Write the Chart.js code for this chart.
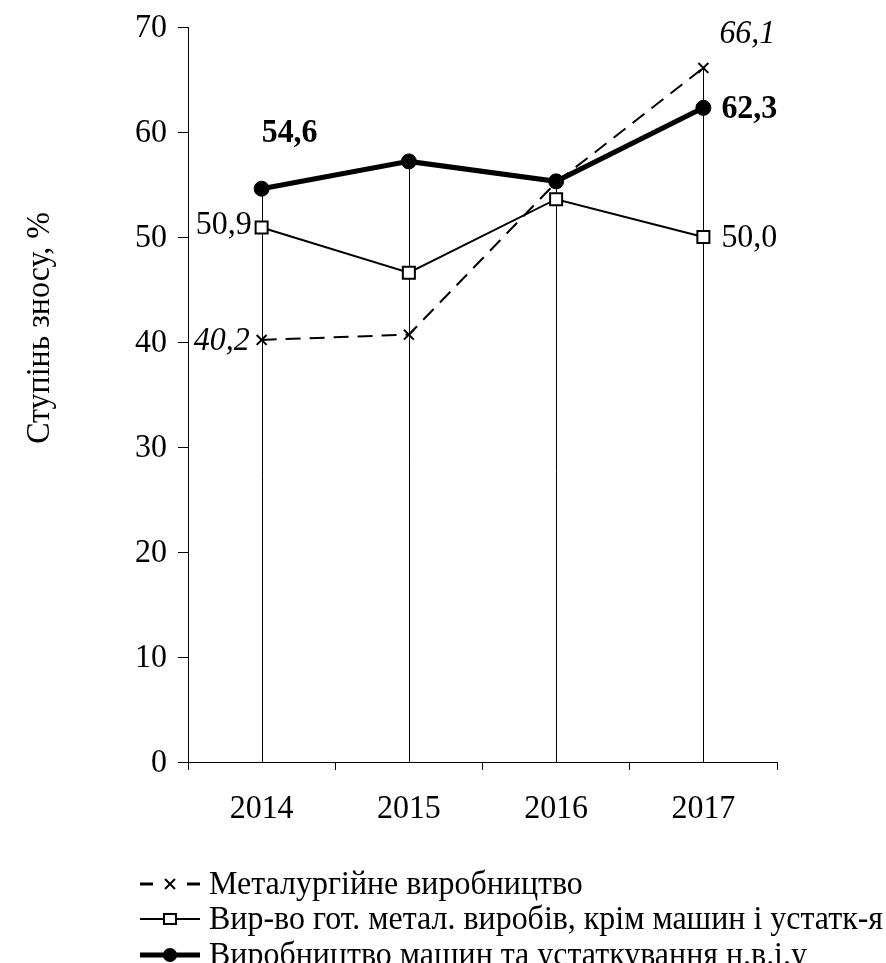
<!DOCTYPE html>
<html><head><meta charset="utf-8">
<script src="https://cdn.jsdelivr.net/npm/chart.js@4/dist/chart.umd.min.js"></script>
<style>html,body{margin:0;padding:0;background:#fff;}canvas{display:block;}</style>
</head><body>
<canvas id="c" width="886" height="963"></canvas>
<script>
const categories = ['2014', '2015', '2016', '2017'];
const metallurgy = [40.2, 40.7, 55.2, 66.1];
const metalProducts = [50.9, 46.6, 53.6, 50.0];
const machinery = [54.6, 57.2, 55.3, 62.3];
const seriesNames = [
  'Металургійне виробництво',
  'Вир-во гот. метал. виробів, крім машин і устатк-я',
  'Виробництво машин та устаткування н.в.і.у'
];
const yTicks = [0, 10, 20, 30, 40, 50, 60, 70];
const yTitle = 'Ступінь зносу, %';

const FONT = "'Liberation Serif', 'Times New Roman', serif";
const SX = 0.94;
const fmt = v => v.toFixed(1).replace('.', ',');

function txt(ctx, s, x, y, style, size, align) {
  ctx.save();
  ctx.translate(x, y);
  ctx.scale(SX, 1);
  ctx.font = style + ' ' + size + 'px ' + FONT;
  ctx.textAlign = align;
  ctx.textBaseline = 'middle';
  ctx.fillStyle = '#000';
  ctx.fillText(s, 0, 0);
  ctx.restore();
}

const dropLines = {
  id: 'dropLines',
  beforeDatasetsDraw(chart) {
    const ctx = chart.ctx, x = chart.scales.x, y = chart.scales.y;
    ctx.save();
    ctx.strokeStyle = '#000';
    ctx.lineWidth = 1;
    categories.forEach((c, i) => {
      const top = Math.max(metallurgy[i], metalProducts[i], machinery[i]);
      const px = Math.round(x.getPixelForValue(i)) + 0.5;
      ctx.beginPath();
      ctx.moveTo(px, y.getPixelForValue(top));
      ctx.lineTo(px, y.getPixelForValue(0));
      ctx.stroke();
    });
    ctx.restore();
  }
};

const extras = {
  id: 'extras',
  afterDraw(chart) {
    const ctx = chart.ctx, x = chart.scales.x, y = chart.scales.y;
    const last = categories.length - 1;
    const S = 34;
    // axis tick labels
    yTicks.forEach(v => txt(ctx, String(v), 167, y.getPixelForValue(v) + 1, 'normal', S, 'right'));
    categories.forEach((c, i) => txt(ctx, c, x.getPixelForValue(i), 809, 'normal', S, 'center'));

    // data labels
    const px0 = x.getPixelForValue(0), pxL = x.getPixelForValue(last);
    txt(ctx, fmt(metallurgy[0]), px0 - 12, y.getPixelForValue(metallurgy[0]) + 1, 'italic', 34, 'right');
    txt(ctx, fmt(metallurgy[last]), pxL + 16, y.getPixelForValue(metallurgy[last]) - 34, 'italic', 34, 'left');
    txt(ctx, fmt(metalProducts[0]), px0 - 10, y.getPixelForValue(metalProducts[0]) - 2, 'normal', 34, 'right');
    txt(ctx, fmt(metalProducts[last]), pxL + 18, y.getPixelForValue(metalProducts[last]) + 1, 'normal', 34, 'left');
    txt(ctx, fmt(machinery[0]), px0 + 28, y.getPixelForValue(machinery[0]) - 55, 'bold', 34, 'center');
    txt(ctx, fmt(machinery[last]), pxL + 18, y.getPixelForValue(machinery[last]) + 1, 'bold', 34, 'left');

    // y title
    ctx.save();
    ctx.translate(40, 328);
    ctx.rotate(-Math.PI / 2);
    txt(ctx, yTitle, 0, 0, 'normal', 34, 'center');
    ctx.restore();

    // legend
    const rows = [884, 919, 955];
    const x1 = 140, x2 = 200, xm = 170, xt = 209;
    ctx.save();
    ctx.strokeStyle = '#000';
    ctx.fillStyle = '#000';
    let ry = rows[0];
    ctx.lineWidth = 3;
    ctx.beginPath();
    ctx.moveTo(x1, ry); ctx.lineTo(x1 + 13, ry);
    ctx.moveTo(x2 - 13, ry); ctx.lineTo(x2, ry);
    ctx.stroke();
    ctx.lineWidth = 2;
    ctx.beginPath();
    ctx.moveTo(xm - 5, ry - 5); ctx.lineTo(xm + 5, ry + 5);
    ctx.moveTo(xm - 5, ry + 5); ctx.lineTo(xm + 5, ry - 5);
    ctx.stroke();
    ry = rows[1];
    ctx.beginPath();
    ctx.moveTo(x1, ry); ctx.lineTo(x2, ry);
    ctx.stroke();
    ctx.fillStyle = '#fff';
    ctx.fillRect(xm - 6, ry - 5, 12, 10);
    ctx.strokeRect(xm - 6, ry - 5, 12, 10);
    ctx.fillStyle = '#000';
    ry = rows[2];
    ctx.lineWidth = 5;
    ctx.beginPath();
    ctx.moveTo(x1, ry); ctx.lineTo(x2, ry);
    ctx.stroke();
    ctx.beginPath();
    ctx.arc(xm, ry, 7, 0, Math.PI * 2);
    ctx.fill();
    ctx.restore();
    seriesNames.forEach((n, i) => txt(ctx, n, xt, rows[i] + 1, 'normal', 34, 'left'));
  }
};

new Chart(document.getElementById('c'), {
  type: 'line',
  data: {
    labels: categories,
    datasets: [
      {
        label: seriesNames[0], data: metallurgy, order: 2,
        borderColor: '#000', borderWidth: 2, borderDash: [15, 9],
        pointStyle: 'crossRot', pointRadius: 7, pointBorderWidth: 2,
        pointBorderColor: '#000', pointBackgroundColor: '#000', tension: 0
      },
      {
        label: seriesNames[1], data: metalProducts, order: 0,
        borderColor: '#000', borderWidth: 2,
        pointStyle: 'rect', pointRadius: 8.5, pointBorderWidth: 2,
        pointBorderColor: '#000', pointBackgroundColor: '#fff', tension: 0
      },
      {
        label: seriesNames[2], data: machinery, order: 1,
        borderColor: '#000', borderWidth: 5,
        pointStyle: 'circle', pointRadius: 7.5, pointBorderWidth: 1,
        pointBorderColor: '#000', pointBackgroundColor: '#000', tension: 0
      }
    ]
  },
  options: {
    responsive: false,
    animation: false,
    devicePixelRatio: 1,
    layout: { padding: { top: 27, right: 109, left: 0, bottom: 0 } },
    plugins: { legend: { display: false }, tooltip: { enabled: false } },
    scales: {
      x: {
        type: 'category',
        offset: true,
        grid: { offset: true, drawOnChartArea: false, drawTicks: true, tickLength: 8, color: '#000', lineWidth: 1 },
        border: { display: true, color: '#000', width: 1 },
        ticks: { display: false },
        afterFit(s) { s.height = 201; }
      },
      y: {
        min: 0, max: 70,
        afterBuildTicks(s) { s.ticks = yTicks.map(v => ({ value: v })); },
        grid: { drawOnChartArea: false, drawTicks: true, tickLength: 10, color: '#000', lineWidth: 1 },
        border: { display: true, color: '#000', width: 1 },
        ticks: { display: false },
        afterFit(s) { s.width = 188; }
      }
    }
  },
  plugins: [dropLines, extras]
});
</script>
</body></html>
